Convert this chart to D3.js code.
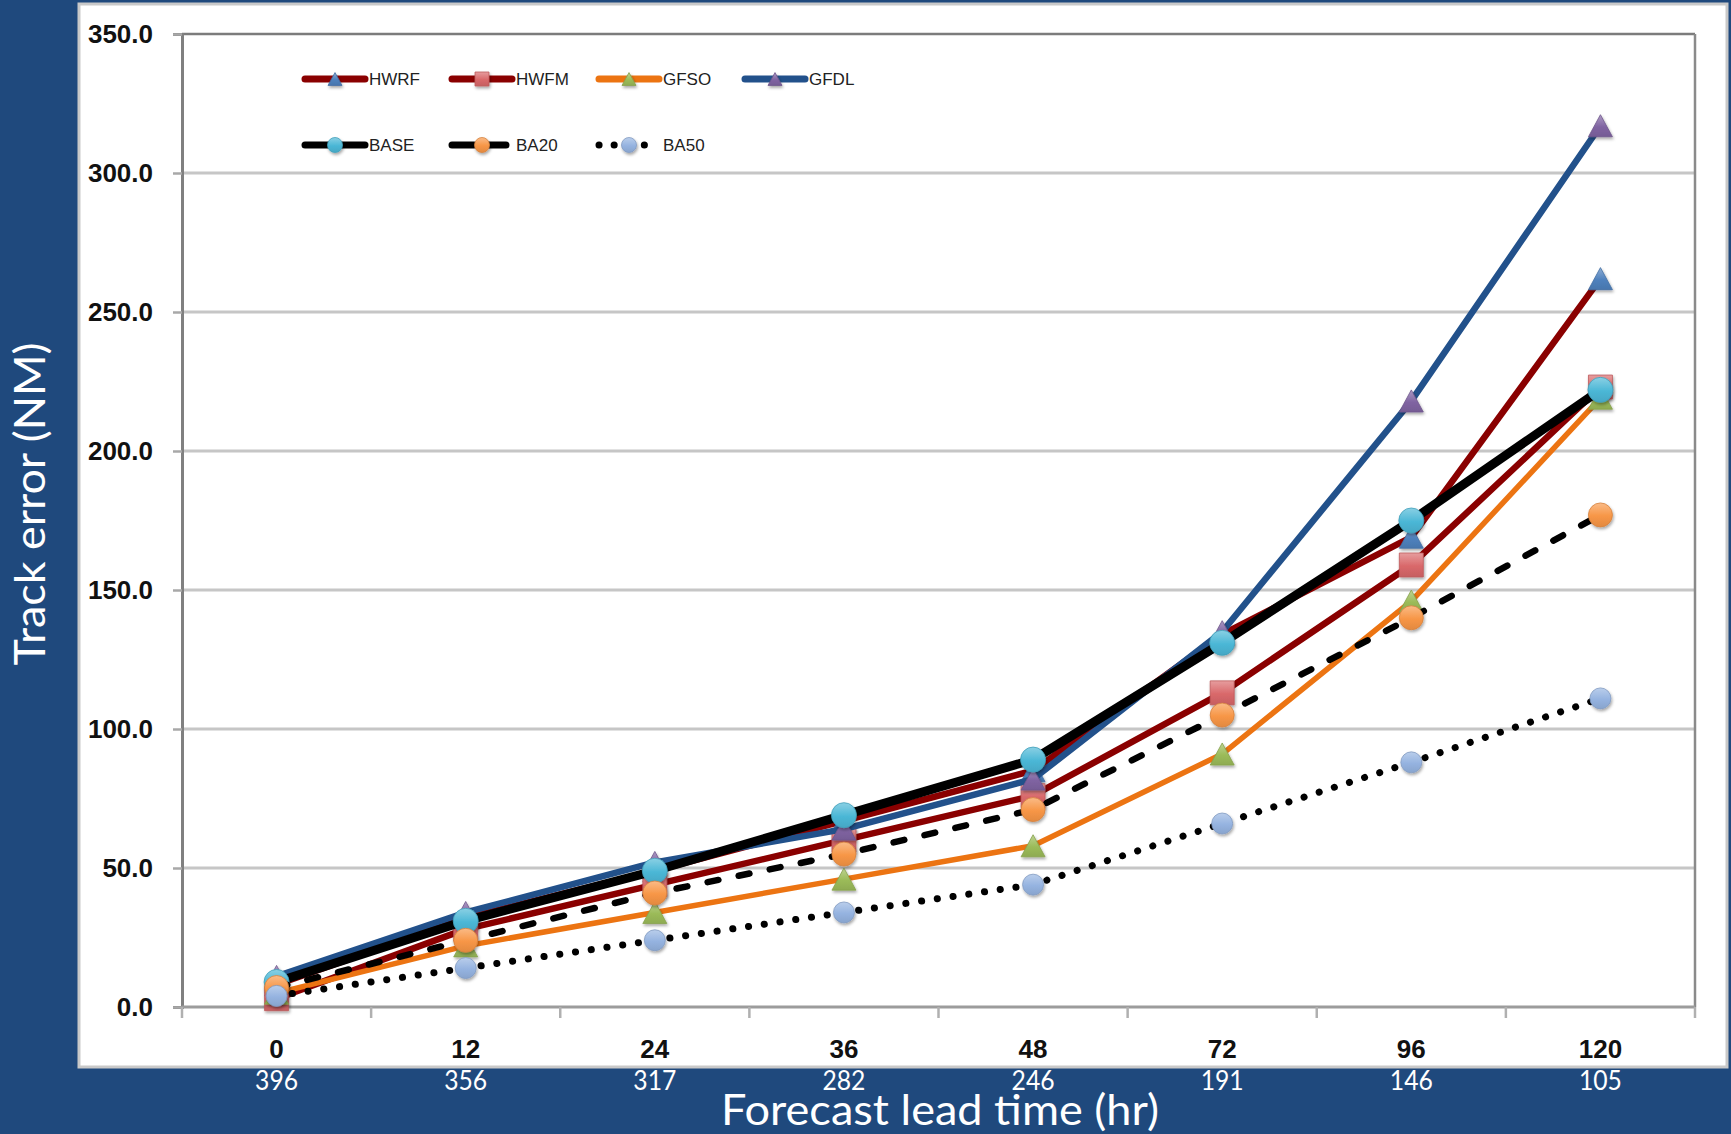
<!DOCTYPE html>
<html>
<head>
<meta charset="utf-8">
<script src="https://cdn.jsdelivr.net/npm/d3@7"></script>
<style>
  html, body { margin: 0; padding: 0; background: #1f497d; }
  svg { display: block; }
</style>
</head>
<body>
<svg id="chart" width="1731" height="1134"></svg>
<script>
// Forecast lead times (hr) and the number of verifying cases at each
const leadTimes  = ["0", "12", "24", "36", "48", "72", "96", "120"];
const caseCounts = ["396", "356", "317", "282", "246", "191", "146", "105"];

// Mean track error (NM) per model
const hwrf = [8, 32, 49, 67, 85, 134, 169, 262];
const hwfm = [3, 28, 44, 60, 76, 113, 159, 223];
const gfso = [5, 22, 34, 46, 58, 91, 146, 219];
const gfdl = [11, 34, 52, 64, 82, 135, 218, 317];
const base = [9, 31, 49, 69, 89, 131, 175, 222];
const ba20 = [7, 24, 41, 55, 71, 105, 140, 177];
const ba50 = [4, 14, 24, 34, 44, 66, 88, 111];

const seriesNames = ["HWRF", "HWFM", "GFSO", "GFDL", "BASE", "BA20", "BA50"];
const seriesValues = [hwrf, hwfm, gfso, gfdl, base, ba20, ba50];

const yTicks = [0, 50, 100, 150, 200, 250, 300, 350];

// Drawing styles for each series
const styles = {
  HWRF: { stroke: "#8a0000", width: 6.5, dash: null, shape: "triangle", fill: "#4f81bd", size: 24 },
  HWFM: { stroke: "#8a0000", width: 6.5, dash: null, shape: "square", fill: "#d9686a", size: 24 },
  GFSO: { stroke: "#ec7412", width: 5.5, dash: null, shape: "triangle", fill: "#9bbb59", size: 24 },
  GFDL: { stroke: "#22518b", width: 6.5, dash: null, shape: "triangle", fill: "#8064a2", size: 24 },
  BASE: { stroke: "#000000", width: 9, dash: null, shape: "circle", fill: "#4bb7d6", size: 25 },
  BA20: { stroke: "#000000", width: 6.5, dash: "11,20.7", shape: "circle", fill: "#f79646", size: 24 },
  BA50: { stroke: "#000000", width: 7, dash: "0.1,15.8", shape: "circle", fill: "#95b3e0", size: 21 }
};

const plot = { left: 182, right: 1695, top: 34, bottom: 1007 };

const svg = d3.select("#chart");
const defs = svg.append("defs");

// soft drop shadow used by the markers
const shadow = defs.append("filter").attr("id", "mkShadow")
  .attr("x", "-50%").attr("y", "-50%").attr("width", "200%").attr("height", "200%");
shadow.append("feDropShadow").attr("dx", 1).attr("dy", 2).attr("stdDeviation", 1.6)
  .attr("flood-color", "#000").attr("flood-opacity", 0.35);

// glossy vertical gradient for every marker colour
function gradId(color) { return "g" + color.replace("#", ""); }
Object.values(styles).forEach(s => {
  if (!defs.select("#" + gradId(s.fill)).empty()) return;
  const g = defs.append("linearGradient").attr("id", gradId(s.fill))
    .attr("x1", 0).attr("y1", 0).attr("x2", 0).attr("y2", 1);
  g.append("stop").attr("offset", "0%").attr("stop-color", d3.interpolateRgb(s.fill, "#ffffff")(0.35));
  g.append("stop").attr("offset", "55%").attr("stop-color", s.fill);
  g.append("stop").attr("offset", "100%").attr("stop-color", d3.color(s.fill).darker(0.25));
});

// white chart panel
svg.append("rect").attr("x", 79).attr("y", 4).attr("width", 1648).attr("height", 1063)
  .attr("fill", "#ffffff").attr("stroke", "#c9c9c9").attr("stroke-width", 3);

// scales
const x = d3.scaleBand().domain(leadTimes).range([plot.left, plot.right]).paddingInner(0).paddingOuter(0);
const y = d3.scaleLinear().domain([0, 350]).range([plot.bottom, plot.top]);
const cx = d => x(d) + x.bandwidth() / 2;

// horizontal gridlines
svg.append("g").selectAll("line").data(yTicks.filter(t => t > 0 && t < 350)).join("line")
  .attr("x1", plot.left).attr("x2", plot.right)
  .attr("y1", d => y(d)).attr("y2", d => y(d))
  .attr("stroke", "#c6c6c6").attr("stroke-width", 3);

// frame: top and right edges
svg.append("line").attr("x1", plot.left).attr("x2", plot.right).attr("y1", y(350)).attr("y2", y(350))
  .attr("stroke", "#7c7c7c").attr("stroke-width", 2.5);
svg.append("line").attr("x1", plot.right).attr("x2", plot.right).attr("y1", y(350)).attr("y2", y(0))
  .attr("stroke", "#8a8a8a").attr("stroke-width", 2.5);

// y axis
const yAxis = svg.append("g").attr("transform", `translate(${plot.left},0)`)
  .call(d3.axisLeft(y).tickValues(yTicks).tickFormat(d3.format(".1f")).tickSize(9).tickPadding(20));
yAxis.select(".domain").attr("stroke", "#808080").attr("stroke-width", 3);
yAxis.selectAll(".tick line").attr("stroke", "#a8a8a8").attr("stroke-width", 2.5);
yAxis.selectAll(".tick text")
  .attr("font-family", "'Liberation Sans', Arial, sans-serif").attr("font-weight", "bold")
  .attr("font-size", 26).attr("fill", "#111");

// x axis line with tick marks on category boundaries
svg.append("line").attr("x1", plot.left).attr("x2", plot.right).attr("y1", y(0)).attr("y2", y(0))
  .attr("stroke", "#9c9c9c").attr("stroke-width", 3);
const bounds = leadTimes.map(d => x(d)).concat([plot.right]);
svg.append("g").selectAll("line").data(bounds).join("line")
  .attr("x1", d => d).attr("x2", d => d).attr("y1", y(0)).attr("y2", y(0) + 11)
  .attr("stroke", "#b0b0b0").attr("stroke-width", 2.5);

// x tick labels (lead time)
svg.append("g").selectAll("text").data(leadTimes).join("text")
  .attr("x", d => cx(d)).attr("y", 1058).attr("text-anchor", "middle")
  .attr("font-family", "'Liberation Sans', Arial, sans-serif").attr("font-weight", "bold")
  .attr("font-size", 26).attr("fill", "#111").text(d => d);

// case counts under the panel
svg.append("g").selectAll("text").data(leadTimes).join("text")
  .attr("x", d => cx(d)).attr("y", 1090).attr("text-anchor", "middle")
  .attr("font-family", "Lato, 'Open Sans', sans-serif")
  .attr("font-size", 26).attr("fill", "#ffffff")
  .attr("textLength", 43).attr("lengthAdjust", "spacingAndGlyphs")
  .text((d, i) => caseCounts[i]);

// axis titles
svg.append("text").attr("x", 940).attr("y", 1125).attr("text-anchor", "middle")
  .attr("font-family", "Lato, 'Open Sans', sans-serif").attr("font-size", 43).attr("fill", "#ffffff")
  .attr("textLength", 438).attr("lengthAdjust", "spacingAndGlyphs")
  .text("Forecast lead time (hr)");
svg.append("text").attr("transform", "translate(45,504) rotate(-90)").attr("text-anchor", "middle")
  .attr("font-family", "Lato, 'Open Sans', sans-serif").attr("font-size", 43).attr("fill", "#ffffff")
  .attr("textLength", 323).attr("lengthAdjust", "spacingAndGlyphs")
  .text("Track error (NM)");

// marker path generator
function markerPath(shape, s) {
  if (shape === "triangle") {
    const w = s, h = s * 0.92;
    return `M0,${-h / 2}L${w / 2},${h / 2}L${-w / 2},${h / 2}Z`;
  }
  if (shape === "square") {
    const h = s / 2;
    return `M${-h},${-h}H${h}V${h}H${-h}Z`;
  }
  const r = s / 2;
  return `M${-r},0A${r},${r} 0 1,0 ${r},0A${r},${r} 0 1,0 ${-r},0Z`;
}

function styleLine(sel, st) {
  sel.attr("fill", "none").attr("stroke", st.stroke).attr("stroke-width", st.width)
    .attr("stroke-linejoin", "round")
    .attr("stroke-linecap", st.dash ? "round" : "butt")
    .attr("stroke-dasharray", st.dash);
}
function styleMarker(sel, st) {
  sel.attr("fill", `url(#${gradId(st.fill)})`)
    .attr("stroke", d3.color(st.fill).darker(0.4)).attr("stroke-width", 0.8)
    .attr("filter", "url(#mkShadow)");
}

// series: line then markers, in legend order
const line = d3.line().x((d, i) => cx(leadTimes[i])).y(d => y(d));
seriesNames.forEach((name, k) => {
  const st = styles[name];
  const vals = seriesValues[k];
  const g = svg.append("g").attr("class", "series");
  g.append("path").datum(vals).attr("d", line).call(styleLine, st);
  g.selectAll("path.mk").data(vals).join("path").attr("class", "mk")
    .attr("transform", (d, i) => `translate(${cx(leadTimes[i])},${y(d)})`)
    .attr("d", markerPath(st.shape, st.size)).call(styleMarker, st);
});

// legend
const legendX = [305, 452, 599, 745];
const legendY = [79, 145];
seriesNames.forEach((name, k) => {
  const st = styles[name];
  const lx = legendX[k % 4], ly = legendY[Math.floor(k / 4)];
  const dotted = st.dash === "0.1,15.8";
  const g = svg.append("g").attr("transform", `translate(${lx},${ly})`);
  g.append("path").attr("d", "M0,0H60").call(styleLine, Object.assign({}, st, {
    width: dotted ? 7 : 7,
    dash: dotted ? "0.1,15" : st.dash ? "22,10" : null
  })).attr("stroke-linecap", "round");
  g.append("path").attr("transform", "translate(30,0)")
    .attr("d", markerPath(st.shape, st.shape === "circle" ? 15 : 14)).call(styleMarker, st);
  g.append("text").attr("x", 64).attr("y", 0).attr("dy", "0.36em")
    .attr("font-family", "'Liberation Sans', Arial, sans-serif").attr("font-size", 17)
    .attr("fill", "#222").text(name);
});
</script>
</body>
</html>
